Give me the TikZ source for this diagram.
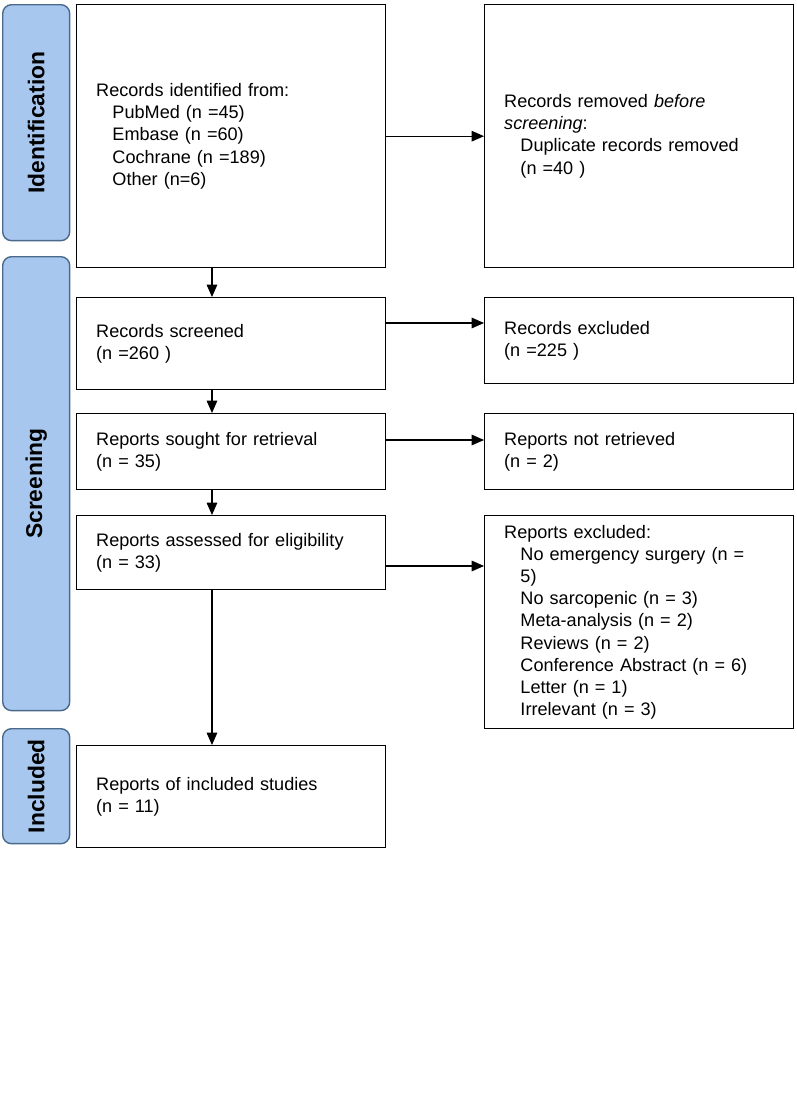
\documentclass[tikz,border=0pt]{standalone}
\usepackage{fontspec}
\setmainfont{Liberation Sans}
\usetikzlibrary{arrows.meta}
\definecolor{barfill}{HTML}{A7C7EE}
\definecolor{barline}{HTML}{4A6A8C}
\begin{document}
\begin{tikzpicture}[x=0.02cm, y=-0.02cm,
  box/.style={draw, line width=0.8pt, anchor=north west, minimum width=6.18cm,
    text width=5.4cm, align=left, inner xsep=0.38cm, inner ysep=0.19cm,
    font=\fontsize{10.3}{12.6}\selectfont},
  bar/.style={draw=barline, fill=barfill, rounded corners=5pt, line width=0.8pt,
    anchor=north west, minimum width=1.34cm},
  bartext/.style={rotate=90, font=\fontsize{13}{15}\selectfont\bfseries},
  arr/.style={-{Triangle[length=7pt, width=6pt]}, line width=0.6pt}]

\useasboundingbox (0,0) rectangle (797,1103);

% -------- phase bars -----------
\node[bar, minimum height=4.72cm] (idb) at (2,4) {};
\node[bartext] at (idb.center) {Identification};
\node[bar, minimum height=9.08cm] (scb) at (2,256) {};
\node[bartext] at (scb.center) {Screening};
\node[bar, minimum height=2.30cm] (inb) at (2,728) {};
\node[bartext] at (inb.center) {Included};

% -------- boxes -----------
\node[box, minimum height=5.26cm] (ident) at (76,4) {Records identified from:\\
  \hspace*{0.9em}PubMed (n =45)\\ \hspace*{0.9em}Embase (n =60)\\
  \hspace*{0.9em}Cochrane (n =189)\\ \hspace*{0.9em}Other (n=6)};
\node[box, minimum height=5.26cm] (removed) at (484,4) {Records removed \emph{before}\\ \emph{screening}:\\
  \hspace*{0.9em}Duplicate records removed\\ \hspace*{0.9em}(n =40 )};
\node[box, minimum height=1.84cm] (screened) at (76,297) {Records screened\\(n =260 )};
\node[box, minimum height=1.72cm] (excluded) at (484,297) {Records excluded\\(n =225 )};
\node[box, minimum height=1.52cm] (sought) at (76,413) {Reports sought for retrieval\\(n = 35)};
\node[box, minimum height=1.52cm] (notret) at (484,413) {Reports not retrieved\\(n = 2)};
\node[box, minimum height=1.48cm] (assessed) at (76,515) {Reports assessed for eligibility\\(n = 33)};
\node[box, minimum height=4.26cm] (repexcl) at (484,515) {Reports excluded:\\
  \hspace*{0.9em}No emergency surgery (n =\\ \hspace*{0.9em}5)\\
  \hspace*{0.9em}No sarcopenic (n = 3)\\ \hspace*{0.9em}Meta-analysis (n = 2)\\
  \hspace*{0.9em}Reviews (n = 2)\\ \hspace*{0.9em}Conference Abstract (n = 6)\\
  \hspace*{0.9em}Letter (n = 1)\\ \hspace*{0.9em}Irrelevant (n = 3)};
\node[box, minimum height=2.04cm] (included) at (76,745) {Reports of included studies\\(n = 11)};

% -------- arrows -----------
\draw[arr] ([xshift=2.72cm]ident.south west) -- ([xshift=2.72cm]screened.north west);
\draw[arr] ([xshift=2.72cm]screened.south west) -- ([xshift=2.72cm]sought.north west);
\draw[arr] ([xshift=2.72cm]sought.south west) -- ([xshift=2.72cm]assessed.north west);
\draw[arr] ([xshift=2.72cm]assessed.south west) -- ([xshift=2.72cm]included.north west);
\draw[arr] (ident.east) -- (ident.east -| removed.west);
\draw[arr] ([yshift=-0.52cm]screened.north east) -- ([yshift=-0.52cm]screened.north east -| excluded.west);
\draw[arr] ([yshift=-0.54cm]sought.north east) -- ([yshift=-0.54cm]sought.north east -| notret.west);
\draw[arr] ([yshift=-1.02cm]assessed.north east) -- ([yshift=-1.02cm]assessed.north east -| repexcl.west);
\end{tikzpicture}
\end{document}
